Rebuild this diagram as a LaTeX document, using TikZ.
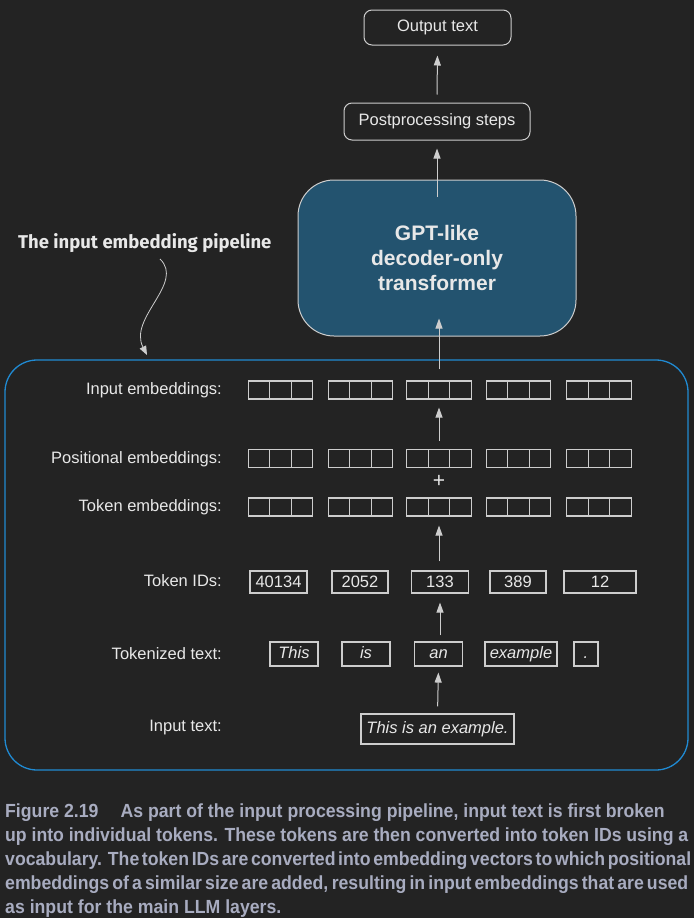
\documentclass[tikz,border=0pt]{standalone}
\usepackage{fontspec}
\setmainfont{Liberation Sans}
\newfontfamily\notefont{Fira Sans}
\newfontfamily\capfont[FakeStretch=0.93]{Liberation Sans}
\newcommand\capspace{\spaceskip=0.26em plus 0.6em minus 0.12em\relax}
\usetikzlibrary{arrows.meta}

\definecolor{bgcol}{RGB}{35,35,35}
\definecolor{txtcol}{RGB}{232,232,232}
\definecolor{linecol}{RGB}{205,205,205}
\definecolor{pipecol}{RGB}{32,138,210}
\definecolor{gptcol}{RGB}{35,83,111}
\definecolor{capcol}{RGB}{168,172,192}

\tikzset{
  rbox/.style={draw=linecol, line width=1pt, rounded corners=8pt, inner sep=0pt},
  cell/.style={draw=linecol, line width=1.1pt, minimum width=21.5pt, minimum height=18pt, inner sep=0pt},
  idbox/.style={draw=linecol, line width=1.1pt, minimum height=22pt, inner sep=0pt},
  tokbox/.style={draw=linecol, line width=1.1pt, minimum height=24pt, inner sep=0pt, text height=11.5pt, text depth=3.5pt,
                 font=\fontsize{16.5}{19}\selectfont\itshape},
  lbl/.style={anchor=east, inner sep=0pt},
  arr/.style={draw=linecol, line width=1pt, -{Triangle[length=10pt,width=7pt]}}
}

\begin{document}
\begin{tikzpicture}[x=1pt, y=-1pt, every node/.style={text=txtcol, font=\fontsize{16.5}{19}\selectfont}]
    % Background
    \fill[bgcol] (0,0) rectangle (694,918);
    \useasboundingbox (0,0) rectangle (694,918);

    % Top part
    \node[rbox, minimum width=147pt, minimum height=35pt] (out) at (437.5,27.5) {Output text};
    \node[rbox, minimum width=186pt, minimum height=37pt] (post) at (437,121.5) {Postprocessing steps};
    \node[draw=linecol, line width=1pt, fill=gptcol, rounded corners=36pt, minimum width=278pt, minimum height=156pt,
          align=center, font=\fontsize{21}{25}\selectfont\bfseries] (gpt) at (437,258) {GPT-like\\decoder-only\\transformer};

    % Pipeline box
    \draw[pipecol, line width=1.3pt, rounded corners=32pt] (5,360) rectangle (688,770);
    \node[font=\notefont\fontsize{18.5}{20}\selectfont\bfseries, anchor=west, inner sep=0pt] (note) at (18,243) {The input embedding pipeline};
    \coordinate (notetip) at (147,355);
    \draw[arr, line width=0.8pt, -{Triangle[length=9pt,width=7pt]}] (160,259) .. controls (185,283) and (128,318) .. (notetip);

    % Labels
    \node[lbl] (l-ie) at (222,390) {Input embeddings:};
    \node[lbl] (l-pe) at (222,459) {Positional embeddings:};
    \node[lbl] (l-te) at (222,507) {Token embeddings:};
    \node[lbl] (l-id) at (222,581) {Token IDs:};
    \node[lbl] (l-tk) at (222,654) {Tokenized text:};
    \node[lbl] (l-in) at (222,728) {Input text:};

    % Embedding vectors
    \foreach \r/\y in {ie/390, pe/458.5, te/507}{
      \foreach \x [count=\i] in {280.5, 360.5, 439, 518.5, 599}{
        \node[cell] (\r-\i) at (\x,\y) {};
        \node[cell] (\r-\i a) at (\x-21.5,\y) {};
        \node[cell] (\r-\i c) at (\x+21.5,\y) {};
      }
    }
    \node[font=\fontsize{21}{22}\selectfont] (plus) at (439,481) {+};

    % Token IDs
    \node[idbox, minimum width=57pt] (id-1) at (278.5,582) {40134};
    \node[idbox, minimum width=56pt] (id-2) at (360,582) {2052};
    \node[idbox, minimum width=57pt] (id-3) at (440,582) {133};
    \node[idbox, minimum width=56pt] (id-4) at (518,582) {389};
    \node[idbox, minimum width=72pt] (id-5) at (600,582) {12};

    % Tokenized text
    \node[tokbox, minimum width=48pt] (tk-1) at (294,654) {This};
    \node[tokbox, minimum width=48pt] (tk-2) at (366,654) {is};
    \node[tokbox, minimum width=48pt] (tk-3) at (438.5,654) {an};
    \node[tokbox, minimum width=72pt] (tk-4) at (521,654) {example};
    \node[tokbox, minimum width=24pt] (tk-5) at (586,654) {.};

    % Input text
    \node[tokbox, minimum width=153pt, minimum height=30pt] (input) at (437.5,729) {This is an example.};

    % Arrows
    \draw[arr, shorten <=7pt, shorten >=6pt] (input.north) -- (tk-3.south);
    \draw[arr, shorten <=6pt, shorten >=9pt] (tk-3.north -| id-3.south) -- (id-3.south);
    \draw[arr, shorten <=9pt, shorten >=9pt] (id-3.north -| te-3.south) -- (te-3.south);
    \draw[arr, shorten <=8pt, shorten >=8pt] (pe-3.north) -- (ie-3.south);
    \draw[arr, shorten <=11pt, shorten >=-18pt] (ie-3.north) -- (ie-3.north |- gpt.south);
    \draw[arr, shorten <=-17pt, shorten >=8pt] (gpt.north) -- (post.south);
    \draw[arr, shorten <=8pt, shorten >=10pt] (post.north) -- (out.south);

    % Caption
    \node[anchor=north west, inner sep=0pt, text=capcol, align=left,
          font=\capfont\fontsize{19}{24}\selectfont\bfseries\capspace] (cap) at (5,804)
      {Figure 2.19\hspace{22pt}As part of the input processing pipeline, input text is first broken\\
       \makebox[683pt][s]{up into individual tokens. These tokens are then converted into token IDs using a}\\
       \makebox[683pt][s]{vocabulary. The token IDs are converted into embedding vectors to which positional}\\
       \makebox[683pt][s]{embeddings of a similar size are added, resulting in input embeddings that are used}\\
       as input for the main LLM layers.};
\end{tikzpicture}
\end{document}
